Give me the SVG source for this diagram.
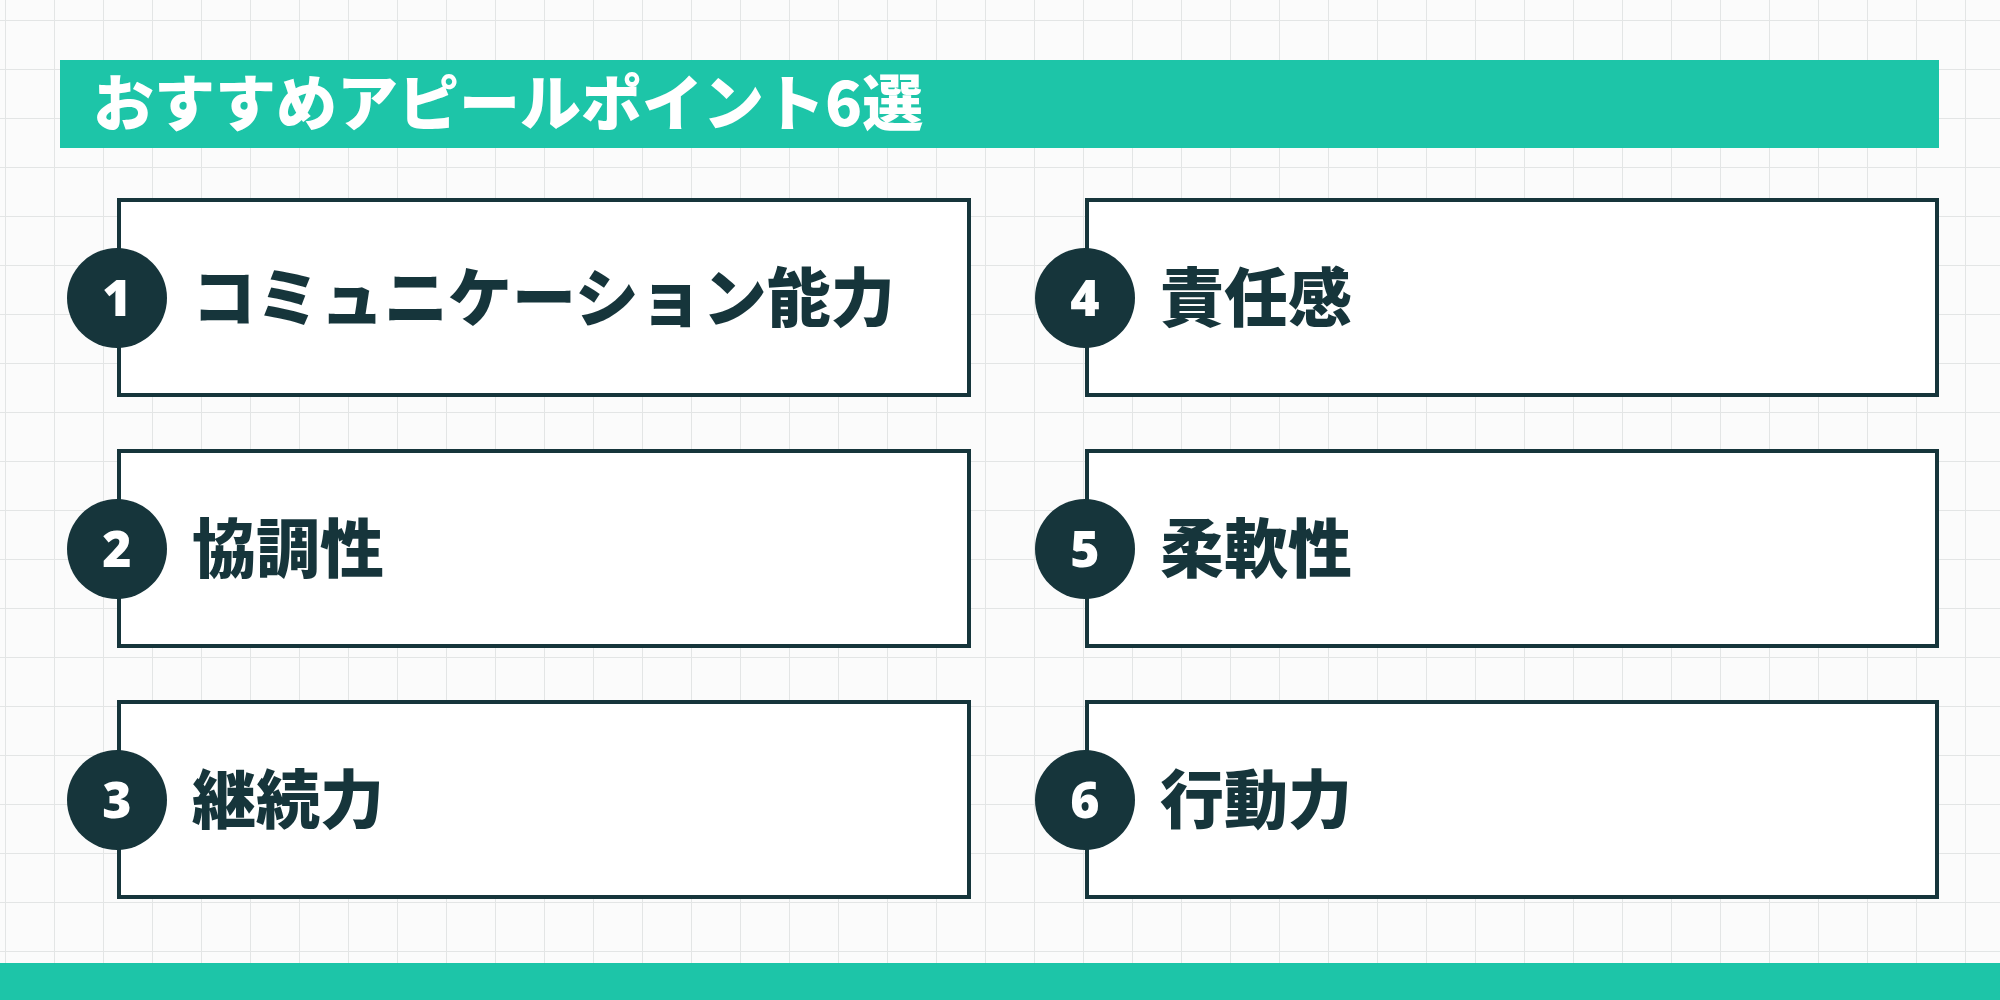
<svg xmlns="http://www.w3.org/2000/svg" width="2000" height="1000" viewBox="0 0 2000 1000">
<defs>
<pattern id="grid" width="49" height="49" patternUnits="userSpaceOnUse" x="6" y="21">
<path d="M49 0V49M0 49H49" fill="none" stroke="#e3e5e5" stroke-width="2"/>
</pattern>
<style>
.box{fill:#fff;stroke:#16353b;stroke-width:4}
.c{fill:#16353b}
.n{fill:#fff;font-family:"Noto Sans","Noto Sans CJK JP",sans-serif;font-weight:900;font-size:50px;text-anchor:middle}
.t{fill:#16353b;font-family:"Noto Sans CJK JP",sans-serif;font-weight:900;font-size:64px}
</style>
</defs>
<rect width="2000" height="1000" fill="#fbfbfb"/>
<rect width="2000" height="1000" fill="url(#grid)"/>
<g id="header"><rect x="60" y="60" width="1879" height="88" fill="#1dc5a8"/>
<text x="93" y="126" style="fill:#fff;font-family:'Noto Sans CJK JP',sans-serif;font-weight:900;font-size:61px">おすすめアピールポイント6選</text></g>
<g id="footer"><rect x="0" y="963" width="2000" height="37" fill="#1dc5a8"/></g>
<g id="n1"><rect class="box" x="119" y="200" width="850" height="195"/><circle class="c" cx="117" cy="298" r="50"/><text class="n" x="117" y="316">1</text><text class="t" x="192" y="321">コミュニケーション能力</text></g>
<g id="n2"><rect class="box" x="119" y="451" width="850" height="195"/><circle class="c" cx="117" cy="549" r="50"/><text class="n" x="117" y="567">2</text><text class="t" x="192" y="572">協調性</text></g>
<g id="n3"><rect class="box" x="119" y="702" width="850" height="195"/><circle class="c" cx="117" cy="800" r="50"/><text class="n" x="117" y="818">3</text><text class="t" x="192" y="823">継続力</text></g>
<g id="n4"><rect class="box" x="1087" y="200" width="850" height="195"/><circle class="c" cx="1085" cy="298" r="50"/><text class="n" x="1085" y="316">4</text><text class="t" x="1160" y="321">責任感</text></g>
<g id="n5"><rect class="box" x="1087" y="451" width="850" height="195"/><circle class="c" cx="1085" cy="549" r="50"/><text class="n" x="1085" y="567">5</text><text class="t" x="1160" y="572">柔軟性</text></g>
<g id="n6"><rect class="box" x="1087" y="702" width="850" height="195"/><circle class="c" cx="1085" cy="800" r="50"/><text class="n" x="1085" y="818">6</text><text class="t" x="1160" y="823">行動力</text></g>
<g id="connectors"/>
</svg>
